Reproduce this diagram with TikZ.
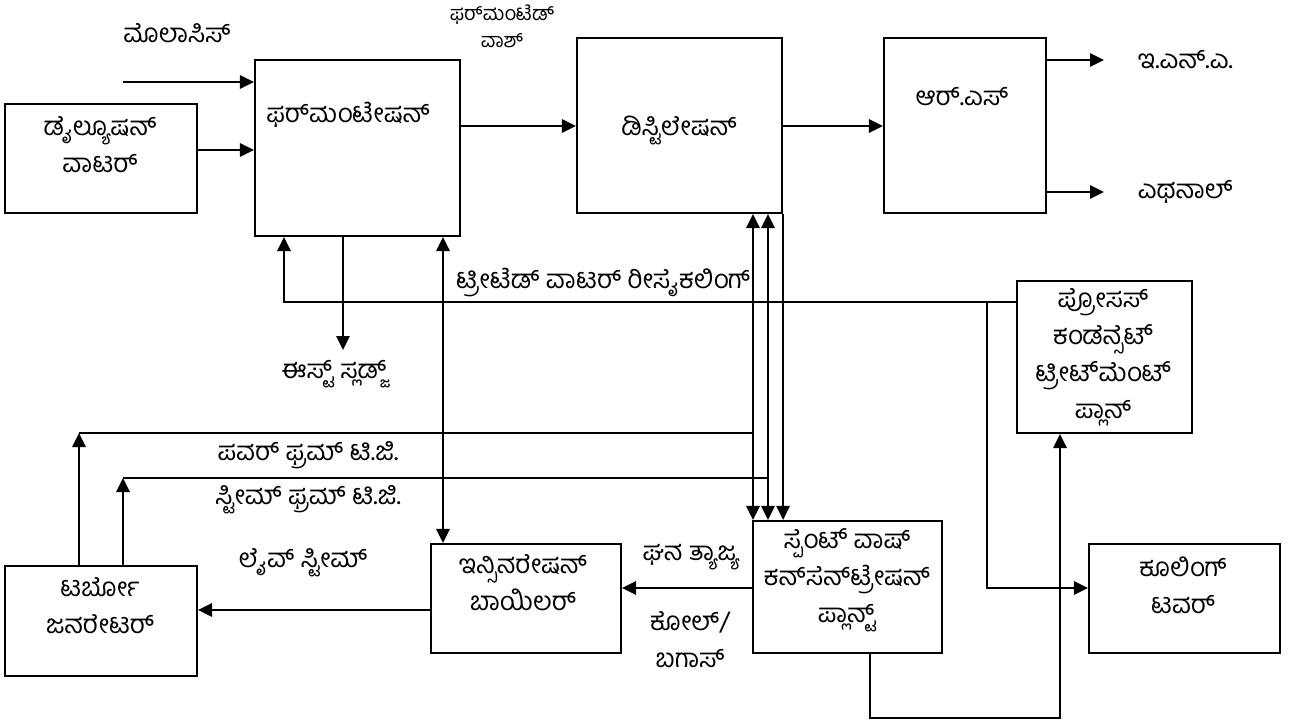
\documentclass[tikz,border=0pt]{standalone}
\usepackage{fontspec}
\newfontfamily\kn[Script=Kannada]{Hind Mysuru}
\usetikzlibrary{arrows.meta,fit}

\begin{document}
\begin{tikzpicture}[x=0.75pt, y=-0.75pt, >={Triangle[length=10.5pt,width=10pt]}, line width=1.4pt,
	box/.style={draw, line width=1.6pt, inner sep=0pt},
	txt/.style={font=\kn\fontsize{19.5}{27.75}\selectfont, align=center, inner sep=0pt},
	small/.style={font=\kn\fontsize{15}{20}\selectfont, align=center, inner sep=0pt}]
	\useasboundingbox (0,0) rectangle (1296,726);
	
	% 1. blocks
	\node[box, fit={(5,104) (197,213)}] (dil) {};
	\node[box, fit={(255,60) (460,236)}] (ferm) {};
	\node[box, fit={(577,38) (782,213)}] (dist) {};
	\node[box, fit={(884,38) (1046,213)}] (rs) {};
	\node[box, fit={(1017,281) (1192,433)}] (pctp) {};
	\node[box, fit={(1089,544) (1280,653)}] (cool) {};
	\node[box, fit={(753,521) (942,653)}] (swc) {};
	\node[box, fit={(431,544) (621,653)}] (inc) {};
	\node[box, fit={(5,566) (197,676)}] (tg) {};
	
	% 2. texts in the blocks
	\node[txt] (diltxt) at (100,145) {ಡೈಲ್ಯೂಷನ್\\ವಾಟರ್};
	\node[txt] (fermtxt) at (348,115) {ಫರ್^^^^200cಮಂಟೇಷನ್};
	\node[txt] (disttxt) at (679,130) {ಡಿಸ್ಟಿಲೇಷನ್};
	\node[txt] (rstxt) at (962,97) {ಆರ್.ಎಸ್};
	\node[txt] (pctptxt) at (1103,357) {ಪ್ರೋಸಸ್\\ಕಂಡೆನ್ಸೆಟ್\\ಟ್ರೀಟ್^^^^200cಮೆಂಟ್\\ಪ್ಲಾನ್};
	\node[txt] (cooltxt) at (1183,585) {ಕೂಲಿಂಗ್\\ಟವರ್};
	\node[txt] (swctxt) at (847,580) {ಸ್ಪೆಂಟ್ ವಾಷ್\\ಕನ್^^^^200cಸೆನ್^^^^200cಟ್ರೇಷನ್\\ಪ್ಲಾನ್ಟ್};
	\node[txt] (inctxt) at (523,583) {ಇನ್ಸಿನರೇಷನ್\\ಬಾಯಿಲರ್};
	\node[txt] (tgtxt) at (100,606) {ಟರ್ಬೋ\\ಜನರೇಟರ್};
	
	% 3. free labels
	\node[txt] (moltxt) at (177,33) {ಮೊಲಾಸಿಸ್};
	\node[small] (fwtxt) at (502,26) {ಫರ್^^^^200cಮಂಟೆಡ್\\ವಾಶ್};
	\node[txt, anchor=west] (enatxt) at (1137,60) {ಇ.ಎನ್.ಎ.};
	\node[txt, anchor=west] (ethtxt) at (1137,192) {ಎಥನಾಲ್};
	\node[txt] (twtxt) at (603,282) {ಟ್ರೀಟೆಡ್ ವಾಟರ್ ರೀಸೈಕಲಿಂಗ್};
	\node[txt] (ystxt) at (334,374) {ಈಸ್ಟ್ ಸ್ಲಡ್ಜ್};
	\node[txt] (pwtxt) at (308,455) {ಪವರ್ ಫ್ರಮ್ ಟಿ.ಜಿ.};
	\node[txt] (sttxt) at (308,500) {ಸ್ಟೀಮ್ ಫ್ರಮ್ ಟಿ.ಜಿ.};
	\node[txt] (lstxt) at (303,563) {ಲೈವ್ ಸ್ಟೀಮ್};
	\node[txt] (gwtxt) at (691,557) {ಘನ ತ್ಯಾಜ್ಯ};
	\node[txt] (coaltxt) at (690,640) {ಕೋಲ್/\\ಬಗಾಸ್};
	
	% 4. main line
	\coordinate (molin) at (123,82);
	\draw[->] (molin) -- (molin -| ferm.west);
	\draw[->] (dil.east |- 0,150) -- (ferm.west |- 0,150);
	\draw[->] (ferm.east |- 0,126) -- (dist.west |- 0,126);
	\draw[->] (dist.east |- 0,126) -- (rs.west |- 0,126);
	\coordinate (enaend) at (1104,60);
	\coordinate (ethend) at (1104,192);
	\draw[->] (rs.east |- enaend) -- (enaend);
	\draw[->] (rs.east |- ethend) -- (ethend);
	
	% 5. water and sludge
	\coordinate (twc) at (284,302);
	\draw[->] (pctp.west |- twc) -- (twc) -- (twc |- ferm.south);
	\coordinate (ctb) at (987,302);
	\coordinate (ctc) at (987,588);
	\draw[->] (ctb) -- (ctc) -- (ctc -| cool.west);
	\coordinate (ys) at (343,350);
	\draw[->] (ys |- ferm.south) -- (ys);
	\draw[<->] (ferm.south -| 443,0) -- (inc.north -| 443,0);
	
	% 6. spent wash links
	\draw[<->] (dist.south -| 753,0) -- (swc.north -| 753,0);
	\draw[<->] (dist.south -| 768,0) -- (swc.north -| 768,0);
	\draw[->] (dist.south east) -- (swc.north -| dist.east);
	\draw[->] (swc.west |- 0,588) -- (inc.east |- 0,588);
	\draw[->] (inc.west |- 0,610) -- (tg.east |- 0,610);
	\coordinate (sb1) at (870,718);
	\coordinate (sb2) at (1060,718);
	\draw[->] (sb1 |- swc.south) -- (sb1) -- (sb2) -- (sb2 |- pctp.south);
	
	% 7. power and steam from turbo generator
	\coordinate (pw) at (79,433);
	\coordinate (pwe) at (753,433);
	\draw[->] (tg.north -| pw) -- (pw);
	\draw (pw) -- (pwe);
	\coordinate (st) at (123,478);
	\coordinate (ste) at (768,478);
	\draw[->] (tg.north -| st) -- (st);
	\draw (st) -- (ste);
	
\end{tikzpicture}
\end{document}
